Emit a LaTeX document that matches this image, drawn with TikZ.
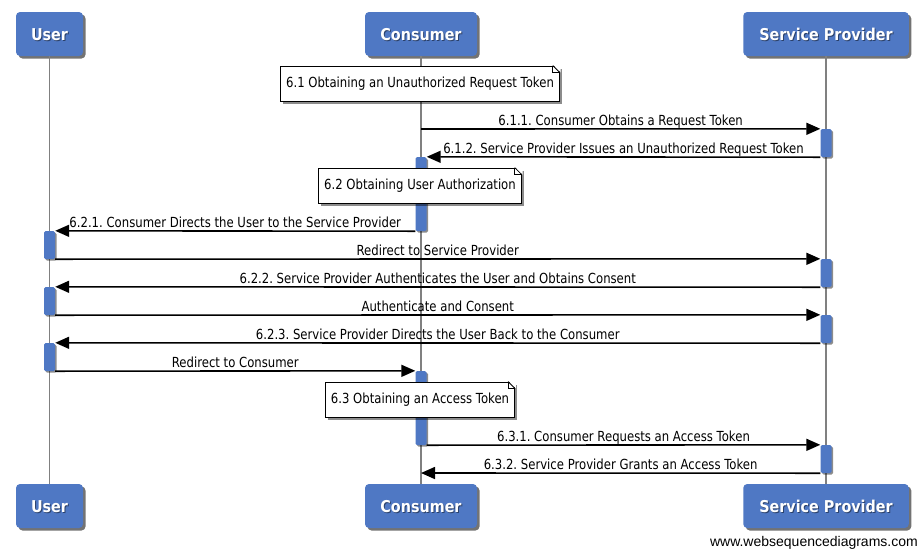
\documentclass[tikz,border=0pt]{standalone}
\usepackage{fontspec}
\setmainfont{DejaVu Sans}[FakeStretch=0.84]
\newfontfamily\wmfont{Liberation Sans}
\newfontfamily\actfont{DejaVu Sans}[FakeStretch=0.88]
\frenchspacing
\usetikzlibrary{arrows.meta,shadows}
\definecolor{actblue}{RGB}{79,120,196}
\tikzset{
  x=1pt, y=-1pt,
  actorbox/.style={draw=none, fill=actblue, rounded corners=4pt, inner sep=0pt,
    drop shadow={shadow xshift=2.5pt, shadow yshift=-2.5pt, opacity=0.55, fill=black}},
  actortext/.style={text=white, font=\actfont\fontsize{16.3}{18}\selectfont\bfseries, anchor=base, inner sep=0pt},
  actorshade/.style={text=black, text opacity=0.45, font=\actfont\fontsize{16.3}{18}\selectfont\bfseries, anchor=base, inner sep=0pt},
  lifeline/.style={draw=black!50, line width=1.8pt},
  actbar/.style={draw=none, fill=actblue, rounded corners=1.5pt, minimum width=11pt, inner sep=0pt,
    drop shadow={shadow xshift=1.5pt, shadow yshift=-1.5pt, opacity=0.45, fill=black}},
  msg/.style={draw=black, line width=1.6pt, -{Triangle[length=14pt,width=12pt]}},
  lbl/.style={anchor=base, yshift=3.5pt, inner sep=0pt, font=\fontsize{13.9}{15}\selectfont},
  note/.style={draw=black, line width=0.9pt, fill=white, minimum height=35pt, inner xsep=5.5pt, inner ysep=0pt,
    font=\fontsize{13.9}{15}\selectfont,
    drop shadow={shadow xshift=2.5pt, shadow yshift=-2.5pt, opacity=0.45, fill=black}},
  fold/.style={draw=black, line width=0.8pt},
}
\begin{document}
\begin{tikzpicture}
\useasboundingbox[fill=white] (0,0) rectangle (920,550);

% actor boxes
\node[actorbox, minimum width=67pt, minimum height=44pt] (uTop) at (49.5,34) {};
\node[actorbox, minimum width=112pt, minimum height=44pt] (cTop) at (421,34) {};
\node[actorbox, minimum width=165.5pt, minimum height=44pt] (sTop) at (826,34) {};
\node[actorbox, minimum width=67pt, minimum height=44pt] (uBot) at (49.5,506) {};
\node[actorbox, minimum width=112pt, minimum height=44pt] (cBot) at (421,506) {};
\node[actorbox, minimum width=165.5pt, minimum height=44pt] (sBot) at (826,506) {};

% lifelines
\draw[lifeline] (uTop.south) -- (uBot.north);
\draw[lifeline] (cTop.south) -- (cBot.north);
\draw[lifeline] (sTop.south) -- (sBot.north);

% actor labels
\foreach \nm/\x/\y/\t in {ust/49.5/40/User, cst/421/40/Consumer, sst/826/40/Service Provider,
                          usb/49.5/512/User, csb/421/512/Consumer, ssb/826/512/Service Provider}{
  \node[actorshade] (\nm s) at (\x+1,\y+1) {\t};
  \node[actortext] (\nm) at (\x,\y) {\t};
}

% activation bars
\node[actbar, minimum height=28pt] (aS1) at (826,143) {};
\node[actbar, minimum height=74pt] (aC1) at (421,194) {};
\node[actbar, minimum height=28pt] (aU1) at (49.5,245) {};
\node[actbar, minimum height=28pt] (aS2) at (826,273) {};
\node[actbar, minimum height=28pt] (aU2) at (49.5,301) {};
\node[actbar, minimum height=28pt] (aS3) at (826,329) {};
\node[actbar, minimum height=28pt] (aU3) at (49.5,357) {};
\node[actbar, minimum height=74pt] (aC2) at (421,408) {};
\node[actbar, minimum height=28pt] (aS4) at (826,459) {};

\coordinate (c1) at (421,129);
\coordinate (c2) at (421,473);

% messages
\draw[msg] (c1) -- node[lbl] {6.1.1. Consumer Obtains a Request Token} (aS1.north west);
\draw[msg] (aS1.south west) -- node[lbl] {6.1.2. Service Provider Issues an Unauthorized Request Token} (aC1.north east);
\draw[msg] (aC1.south west) -- node[lbl] {6.2.1. Consumer Directs the User to the Service Provider} (aU1.north east);
\draw[msg] (aU1.south east) -- node[lbl] {Redirect to Service Provider} (aS2.north west);
\draw[msg] (aS2.south west) -- node[lbl] {6.2.2. Service Provider Authenticates the User and Obtains Consent} (aU2.north east);
\draw[msg] (aU2.south east) -- node[lbl] {Authenticate and Consent} (aS3.north west);
\draw[msg] (aS3.south west) -- node[lbl] {6.2.3. Service Provider Directs the User Back to the Consumer} (aU3.north east);
\draw[msg] (aU3.south east) -- node[lbl] {Redirect to Consumer} (aC2.north west);
\draw[msg] (aC2.south east) -- node[lbl] {6.3.1. Consumer Requests an Access Token} (aS4.north west);
\draw[msg] (aS4.south west) -- node[lbl] {6.3.2. Service Provider Grants an Access Token} (c2);

% notes
\foreach \nm/\y/\t in {n1/83.5/6.1 Obtaining an Unauthorized Request Token,
                       n2/185.5/6.2 Obtaining User Authorization,
                       n3/399.5/6.3 Obtaining an Access Token}{
  \node[note] (\nm) at (420,\y) {\t};
  \fill[white] ([xshift=-7pt,yshift=0.8pt]\nm.north east) -- ([xshift=0.8pt,yshift=0.8pt]\nm.north east) -- ([xshift=0.8pt,yshift=-7pt]\nm.north east) -- cycle;
  \draw[fold] ([xshift=-7pt]\nm.north east) -- ([yshift=-7pt]\nm.north east);
  \draw[fold] ([xshift=-7pt]\nm.north east) -- ([xshift=-7pt,yshift=-7pt]\nm.north east) -- ([yshift=-7pt]\nm.north east);
}

% watermark
\node[anchor=base east, inner sep=0pt, font=\wmfont\fontsize{14}{16}\selectfont] (wm) at (918,546) {www.websequencediagrams.com};
\end{tikzpicture}
\end{document}
